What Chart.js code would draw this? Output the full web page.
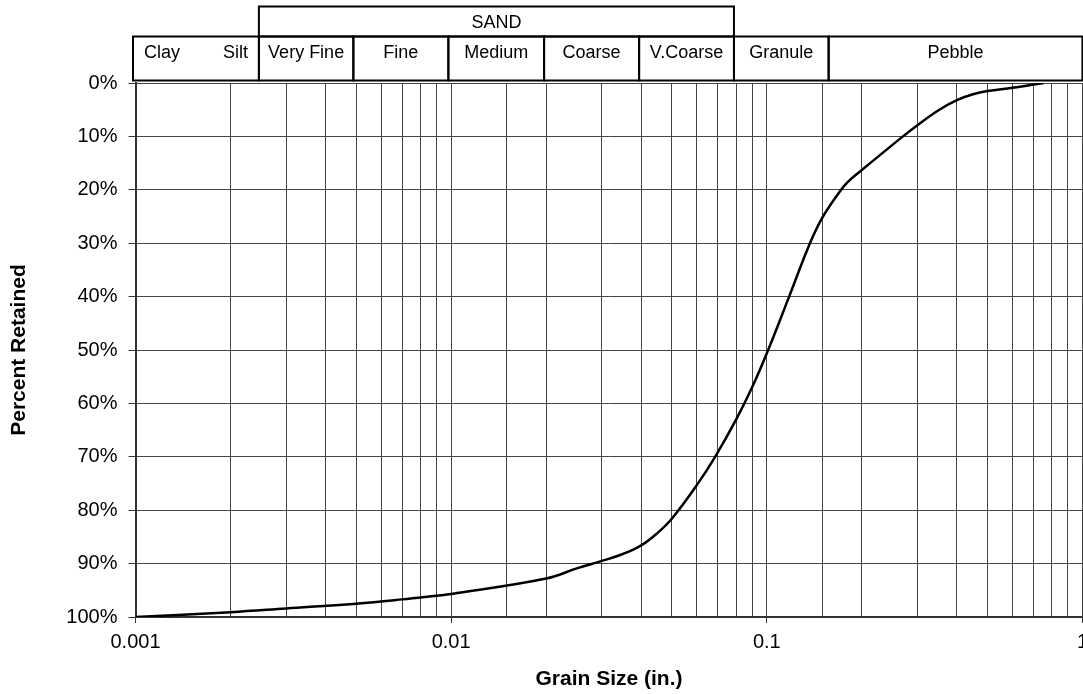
<!DOCTYPE html>
<html>
<head>
<meta charset="utf-8">
<title>Grain Size Distribution</title>
<script src="https://cdn.jsdelivr.net/npm/chart.js@4"></script>
<style>
  html, body { margin: 0; padding: 0; background: #fff; overflow: hidden; }
  #wrap { width: 1095px; height: 694px; }
</style>
</head>
<body>
<div id="wrap"><canvas id="chart" width="1095" height="694"></canvas></div>
<script>
// sieve curve: grain size (in.) vs cumulative percent retained
const grainSize = [0.001, 0.002, 0.003, 0.005, 0.007, 0.009, 0.01, 0.02, 0.025, 0.03,
    0.035, 0.04, 0.045, 0.05, 0.06, 0.0686, 0.08, 0.09, 0.101, 0.1177, 0.137, 0.15,
    0.169, 0.18, 0.2, 0.27, 0.3, 0.35, 0.4, 0.45, 0.5, 0.6, 0.754];
const percentRetained = [100, 99.1, 98.4, 97.5, 96.7, 96.0, 95.7, 92.8, 90.9, 89.5,
    88.2, 86.6, 84.3, 81.6, 75.3, 70, 63.0, 56.9, 50, 40, 30, 25.2,
    20.6, 18.6, 16.3, 10, 7.9, 5.1, 3.2, 2.1, 1.5, 0.9, 0];

// Wentworth classes along the top (boundaries in inches)
const fineClasses = ['Clay', 'Silt'];
const sizeClasses = ['Very Fine', 'Fine', 'Medium', 'Coarse', 'V.Coarse', 'Granule', 'Pebble'];
const classBounds = [0.00246, 0.0049, 0.0098, 0.0197, 0.0394, 0.0787, 0.157, 1];
const sandGroup = { label: 'SAND', from: 0.00246, to: 0.0787 };

const xTickLabels = ['0.001', '0.01', '0.1', '1'];

Chart.defaults.font.family = "'Liberation Sans', Arial, sans-serif";
Chart.defaults.color = '#000';

const isDecade = v => Math.abs(Math.log10(v) - Math.round(Math.log10(v))) < 1e-6;

const classBoxes = {
    id: 'classBoxes',
    afterDraw(chart) {
        const { ctx, chartArea, scales: { x } } = chart;
        const rowBottom = chartArea.top - 2.5;
        const rowTop = chartArea.top - 46.5;
        const sandTop = chartArea.top - 76.5;
        const left = x.getPixelForValue(x.min) - 2.5;

        ctx.save();
        ctx.lineWidth = 2;
        ctx.strokeStyle = '#000';
        ctx.fillStyle = '#000';
        ctx.font = "18px 'Liberation Sans', Arial, sans-serif";
        ctx.textBaseline = 'alphabetic';

        // SAND bracket above the sand classes
        const s0 = x.getPixelForValue(sandGroup.from);
        const s1 = x.getPixelForValue(sandGroup.to);
        ctx.strokeRect(s0, sandTop, s1 - s0, rowTop - sandTop);
        ctx.textAlign = 'center';
        ctx.fillText(sandGroup.label, (s0 + s1) / 2, chartArea.top - 55);

        // clay / silt share one box
        const b0 = x.getPixelForValue(classBounds[0]);
        ctx.strokeRect(left, rowTop, b0 - left, rowBottom - rowTop);
        ctx.textAlign = 'left';
        ctx.fillText(fineClasses[0], left + 11, chartArea.top - 25);
        ctx.textAlign = 'right';
        ctx.fillText(fineClasses[1], b0 - 11, chartArea.top - 25);

        ctx.textAlign = 'center';
        sizeClasses.forEach((name, i) => {
            const a = x.getPixelForValue(classBounds[i]);
            const b = x.getPixelForValue(classBounds[i + 1]);
            ctx.strokeRect(a, rowTop, b - a, rowBottom - rowTop);
            ctx.fillText(name, (a + b) / 2, chartArea.top - 25);
        });
        ctx.restore();
    }
};

new Chart(document.getElementById('chart'), {
    type: 'line',
    data: {
        datasets: [{
            data: grainSize.map((g, i) => ({ x: g, y: percentRetained[i] })),
            borderColor: '#000',
            borderWidth: 2.5,
            pointRadius: 0,
            fill: false,
            tension: 0.4
        }]
    },
    options: {
        responsive: false,
        animation: false,
        layout: { padding: { top: 83, left: 0, right: 0, bottom: 0 } },
        plugins: {
            legend: { display: false },
            tooltip: { enabled: false }
        },
        scales: {
            x: {
                type: 'logarithmic',
                min: 0.001,
                max: 1,
                afterFit(scale) { scale.height = 77; },
                border: { color: '#333', width: 2 },
                grid: {
                    color: '#444',
                    lineWidth: 1,
                    tickLength: 6,
                    tickColor: ctx => (ctx.tick && isDecade(ctx.tick.value)) ? '#333' : 'rgba(0,0,0,0)'
                },
                ticks: {
                    autoSkip: false,
                    maxRotation: 0,
                    padding: 7,
                    font: { size: 20 },
                    callback(value) {
                        if (!isDecade(value)) return '';
                        return xTickLabels[Math.round(Math.log10(value)) + 3];
                    }
                },
                title: {
                    display: true,
                    text: 'Grain Size (in.)',
                    font: { size: 21, weight: 'bold' },
                    padding: { top: 0, bottom: 2 }
                }
            },
            y: {
                type: 'linear',
                reverse: true,
                min: 0,
                max: 100,
                afterFit(scale) { scale.width = 135.5; },
                border: { color: '#333', width: 2 },
                grid: { color: '#444', lineWidth: 1, tickLength: 7, tickColor: '#333' },
                ticks: {
                    stepSize: 10,
                    padding: 11,
                    font: { size: 20 },
                    callback: v => v + '%'
                },
                title: {
                    display: true,
                    text: 'Percent Retained',
                    font: { size: 21, weight: 'bold' },
                    padding: { top: 7, bottom: 0 }
                }
            }
        }
    },
    plugins: [classBoxes]
});
</script>
</body>
</html>
